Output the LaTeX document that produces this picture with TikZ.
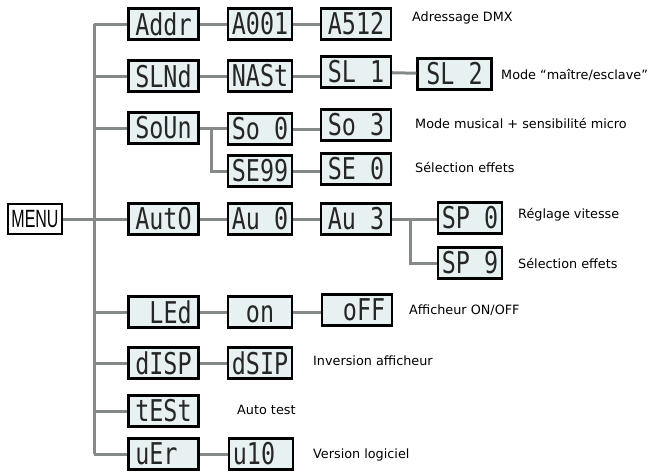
\documentclass[tikz,border=0pt]{standalone}
\usepackage{fontspec}
\setmainfont{DejaVu Sans}
\newfontfamily\segfont[FakeStretch=0.78]{DejaVu Sans Mono}
\newfontfamily\menufont[FakeStretch=0.64]{Liberation Sans}
\definecolor{lcdfill}{HTML}{E8F1F2}
\definecolor{wire}{HTML}{858A87}
\newcommand{\blk}{\phantom{0}}
\begin{document}
\begin{tikzpicture}[x=1pt,y=-1pt,
  lcd/.style={draw=black, line width=2.2pt, fill=lcdfill, minimum height=31pt, inner sep=0pt,
    font=\segfont\fontsize{30}{30}\selectfont, text=black!85},
  wa/.style={lcd, minimum width=70pt},
  wb/.style={lcd, minimum width=64pt},
  wire/.style={draw=wire, line width=3pt},
  lbl/.style={anchor=west, inner sep=0pt, font=\fontsize{12.8}{15}\selectfont}]
\useasboundingbox (0,0) rectangle (653,472);
% MENU
\node[draw=black, line width=1.3pt, fill=white, minimum width=54pt, minimum height=30pt, inner sep=0pt,
  font=\menufont\fontsize{25}{25}\selectfont] (menu) at (35,219) {MENU};
% column 1
\node[wa] (addr) at (163.5,24) {Addr};
\node[wa] (slnd) at (163.5,76) {SLNd};
\node[wa] (soun) at (163.5,128) {SoUn};
\node[wa] (auto) at (163.5,219) {AutO};
\node[wa] (led) at (163.5,312) {\blk LEd};
\node[wa] (disp) at (163.5,363) {dISP};
\node[wa] (test) at (163.5,411) {tESt};
\node[wa] (uer) at (163.5,454) {uEr\blk};
% column 2
\node[wb] (a001) at (260,24) {A001};
\node[wb] (nast) at (260,76) {NASt};
\node[wb] (so0) at (260,129) {So\blk 0};
\node[wb] (se99) at (260,171) {SE99};
\node[wb] (au0) at (260,219) {Au\blk 0};
\node[wb] (on) at (260,312) {\blk on\blk};
\node[wb] (dsip) at (260,363) {dSIP};
\node[wb] (u10) at (261,454) {u10\blk};
% column 3
\node[wa] (a512) at (356,24) {A512};
\node[wa] (sl1) at (356,72) {SL\blk 1};
\node[wa] (so3) at (356,125) {So\blk 3};
\node[wa] (se0) at (356,169) {SE\blk 0};
\node[wa] (au3) at (356,219) {Au\blk 3};
\node[wa] (off) at (357,310) {\blk oFF};
% column 4
\node[lcd, minimum width=74pt] (sl2) at (454.5,74) {SL\blk 2};
\node[wb] (sp0) at (470,218) {SP\blk 0};
\node[wb] (sp9) at (470,263) {SP\blk 9};
% labels
\node[lbl] (l1) at (412,18) {Adressage DMX};
\node[lbl] (l2) at (501,75) {Mode “maître/esclave”};
\node[lbl] (l3) at (415,123) {Mode musical + sensibilité micro};
\node[lbl] (l4) at (415,167) {Sélection effets};
\node[lbl] (l5) at (518,215) {Réglage vitesse};
\node[lbl] (l6) at (518,263) {Sélection effets};
\node[lbl] (l7) at (409,310) {Afficheur ON/OFF};
\node[lbl] (l8) at (313,361) {Inversion afficheur};
\node[lbl] (l9) at (237,410) {Auto test};
\node[lbl] (l10) at (313,455) {Version logiciel};
% connectors
\coordinate (ttop) at (94,24);
\coordinate (tbot) at (94,454);
\coordinate (sb) at (211,128);
\coordinate (ab) at (410,219);
\draw[wire] (ttop) -- (tbot);
\draw[wire] (menu.east) -- (menu.east -| ttop);
\foreach \n in {addr,slnd,soun,auto,led,disp,test,uer}
  \draw[wire] (\n.west -| ttop) -- (\n.west);
\draw[wire] (addr) -- (a001); \draw[wire] (a001) -- (a512);
\draw[wire] (slnd) -- (nast); \draw[wire] (nast.east) -- (sl1.west |- nast.east);
\draw[wire] (sl1) -- (sl2);
\draw[wire] (soun.east) -- (so0.west |- soun.east);
\draw[wire] (sb) |- (se99.west);
\draw[wire] (so0.east) -- (so3.west |- so0.east);
\draw[wire] (se99.east) -- (se0.west |- se99.east);
\draw[wire] (auto) -- (au0); \draw[wire] (au0) -- (au3);
\draw[wire] (au3.east) -- (sp0.west |- au3.east);
\draw[wire] (ab) |- (sp9.west);
\draw[wire] (led) -- (on); \draw[wire] (on.east) -- (off.west |- on.east);
\draw[wire] (disp) -- (dsip);
\draw[wire] (uer) -- (u10);
\end{tikzpicture}
\end{document}
